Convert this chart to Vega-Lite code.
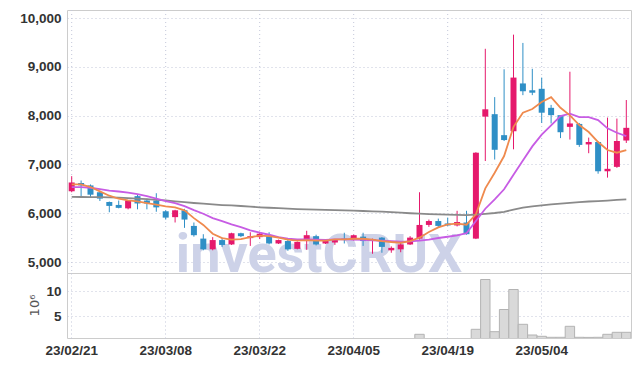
{
"$schema": "https://vega.github.io/schema/vega-lite/v6.json",
"background": "white",
"padding": {"left": 5, "top": 9, "right": 9, "bottom": 5},
"spacing": 0,
"bounds": "flush",
"config": {
  "view": {"stroke": "#cccccc", "strokeWidth": 1},
  "axis": {"labelFont": "Liberation Sans", "labelFontWeight": "bold", "labelFontSize": 13.5, "labelColor": "#333333", "gridColor": "#c3c7d9", "gridDash": [1, 3], "gridWidth": 1, "ticks": false, "domain": false}
},
"datasets": {
  "px": [
    {"d":"23/02/21","o":6450,"h":6760,"l":6430,"c":6630,"ma5":6590,"ma20":6537,"maL":6335,"v":0.45},
    {"d":"23/02/22","o":6620,"h":6670,"l":6350,"c":6570,"ma5":6592,"ma20":6537,"maL":6333,"v":0.3},
    {"d":"23/02/23","o":6570,"h":6590,"l":6320,"c":6380,"ma5":6537,"ma20":6522,"maL":6331,"v":0.25},
    {"d":"23/02/24","o":6430,"h":6440,"l":6250,"c":6300,"ma5":6449,"ma20":6496,"maL":6328,"v":0.2},
    {"d":"23/02/27","o":6230,"h":6240,"l":6020,"c":6150,"ma5":6359,"ma20":6465,"maL":6324,"v":0.3},
    {"d":"23/02/28","o":6170,"h":6260,"l":6100,"c":6110,"ma5":6297,"ma20":6445,"maL":6318,"v":0.2},
    {"d":"23/03/02","o":6100,"h":6270,"l":6080,"c":6260,"ma5":6264,"ma20":6424,"maL":6310,"v":0.25},
    {"d":"23/03/03","o":6350,"h":6380,"l":6080,"c":6200,"ma5":6244,"ma20":6393,"maL":6300,"v":0.2},
    {"d":"23/03/06","o":6260,"h":6300,"l":6080,"c":6200,"ma5":6209,"ma20":6352,"maL":6288,"v":0.15},
    {"d":"23/03/07","o":6260,"h":6410,"l":6030,"c":6120,"ma5":6174,"ma20":6301,"maL":6275,"v":0.3},
    {"d":"23/03/08","o":6040,"h":6060,"l":5870,"c":5910,"ma5":6141,"ma20":6250,"maL":6262,"v":0.3},
    {"d":"23/03/09","o":5920,"h":6070,"l":5810,"c":6060,"ma5":6121,"ma20":6209,"maL":6245,"v":0.25},
    {"d":"23/03/10","o":6060,"h":6090,"l":5700,"c":5870,"ma5":6059,"ma20":6147,"maL":6228,"v":0.35},
    {"d":"23/03/13","o":5740,"h":5810,"l":5520,"c":5550,"ma5":5900,"ma20":6065,"maL":6210,"v":0.4},
    {"d":"23/03/14","o":5480,"h":5570,"l":5240,"c":5260,"ma5":5760,"ma20":5990,"maL":6195,"v":0.5},
    {"d":"23/03/15","o":5260,"h":5510,"l":5240,"c":5450,"ma5":5580,"ma20":5900,"maL":6180,"v":0.3},
    {"d":"23/03/16","o":5450,"h":5500,"l":5310,"c":5350,"ma5":5490,"ma20":5840,"maL":6168,"v":0.2},
    {"d":"23/03/17","o":5360,"h":5600,"l":5350,"c":5590,"ma5":5460,"ma20":5772,"maL":6160,"v":0.3},
    {"d":"23/03/20","o":5590,"h":5600,"l":5510,"c":5530,"ma5":5470,"ma20":5717,"maL":6148,"v":0.15},
    {"d":"23/03/21","o":5490,"h":5610,"l":5330,"c":5530,"ma5":5510,"ma20":5650,"maL":6135,"v":0.2},
    {"d":"23/03/22","o":5510,"h":5620,"l":5470,"c":5580,"ma5":5540,"ma20":5600,"maL":6122,"v":0.2},
    {"d":"23/03/23","o":5530,"h":5610,"l":5360,"c":5380,"ma5":5530,"ma20":5559,"maL":6112,"v":0.2},
    {"d":"23/03/24","o":5380,"h":5460,"l":5370,"c":5450,"ma5":5500,"ma20":5512,"maL":6103,"v":0.15},
    {"d":"23/03/27","o":5430,"h":5470,"l":5230,"c":5260,"ma5":5460,"ma20":5477,"maL":6093,"v":0.2},
    {"d":"23/03/28","o":5270,"h":5420,"l":5260,"c":5410,"ma5":5440,"ma20":5465,"maL":6084,"v":0.15},
    {"d":"23/03/29","o":5430,"h":5640,"l":5250,"c":5550,"ma5":5450,"ma20":5465,"maL":6078,"v":0.25},
    {"d":"23/03/30","o":5530,"h":5560,"l":5340,"c":5360,"ma5":5440,"ma20":5457,"maL":6072,"v":0.15},
    {"d":"23/03/31","o":5380,"h":5440,"l":5370,"c":5430,"ma5":5440,"ma20":5451,"maL":6067,"v":0.1},
    {"d":"23/04/03","o":5400,"h":5470,"l":5350,"c":5450,"ma5":5465,"ma20":5465,"maL":6063,"v":0.1},
    {"d":"23/04/04","o":5480,"h":5600,"l":5380,"c":5450,"ma5":5465,"ma20":5465,"maL":6058,"v":0.15},
    {"d":"23/04/05","o":5450,"h":5560,"l":5440,"c":5550,"ma5":5477,"ma20":5461,"maL":6052,"v":0.1},
    {"d":"23/04/06","o":5520,"h":5600,"l":5330,"c":5430,"ma5":5477,"ma20":5455,"maL":6046,"v":0.15},
    {"d":"23/04/07","o":5450,"h":5480,"l":5170,"c":5470,"ma5":5457,"ma20":5445,"maL":6040,"v":0.1},
    {"d":"23/04/10","o":5500,"h":5510,"l":5190,"c":5310,"ma5":5430,"ma20":5436,"maL":6032,"v":0.15},
    {"d":"23/04/11","o":5240,"h":5320,"l":5190,"c":5290,"ma5":5410,"ma20":5430,"maL":6022,"v":0.1},
    {"d":"23/04/12","o":5260,"h":5390,"l":5200,"c":5360,"ma5":5395,"ma20":5420,"maL":6012,"v":0.1},
    {"d":"23/04/13","o":5360,"h":5530,"l":5350,"c":5500,"ma5":5430,"ma20":5424,"maL":6000,"v":0.2},
    {"d":"23/04/14","o":5480,"h":6430,"l":5460,"c":5760,"ma5":5498,"ma20":5440,"maL":5990,"v":1.34},
    {"d":"23/04/17","o":5760,"h":5870,"l":5720,"c":5840,"ma5":5615,"ma20":5461,"maL":5982,"v":0.4},
    {"d":"23/04/18","o":5840,"h":5890,"l":5720,"c":5740,"ma5":5711,"ma20":5492,"maL":5976,"v":0.3},
    {"d":"23/04/19","o":5790,"h":5910,"l":5740,"c":5750,"ma5":5772,"ma20":5518,"maL":5972,"v":0.25},
    {"d":"23/04/20","o":5750,"h":6050,"l":5730,"c":5820,"ma5":5785,"ma20":5545,"maL":5968,"v":0.4},
    {"d":"23/04/21","o":5810,"h":6050,"l":5560,"c":5570,"ma5":5765,"ma20":5590,"maL":5963,"v":0.3},
    {"d":"23/04/24","o":5480,"h":7250,"l":5470,"c":7240,"ma5":5977,"ma20":5840,"maL":5970,"v":2.34},
    {"d":"23/04/25","o":7980,"h":9370,"l":7070,"c":8130,"ma5":6510,"ma20":6092,"maL":5988,"v":12.3},
    {"d":"23/04/26","o":8030,"h":8380,"l":7100,"c":7300,"ma5":6830,"ma20":6285,"maL":6005,"v":1.86},
    {"d":"23/04/27","o":7600,"h":8950,"l":7480,"c":7500,"ma5":7172,"ma20":6490,"maL":6028,"v":6.3},
    {"d":"23/04/28","o":7680,"h":9660,"l":7310,"c":8780,"ma5":7770,"ma20":6790,"maL":6073,"v":10.3},
    {"d":"23/05/02","o":8660,"h":9490,"l":8420,"c":8500,"ma5":8059,"ma20":7080,"maL":6116,"v":3.34},
    {"d":"23/05/03","o":8520,"h":8960,"l":8420,"c":8470,"ma5":8135,"ma20":7370,"maL":6141,"v":1.2},
    {"d":"23/05/04","o":8550,"h":8780,"l":7850,"c":8060,"ma5":8280,"ma20":7610,"maL":6162,"v":0.94},
    {"d":"23/05/08","o":8160,"h":8220,"l":7840,"c":8010,"ma5":8380,"ma20":7800,"maL":6181,"v":0.74},
    {"d":"23/05/09","o":8010,"h":8010,"l":7540,"c":7660,"ma5":8162,"ma20":7992,"maL":6197,"v":0.74},
    {"d":"23/05/10","o":7770,"h":8900,"l":7510,"c":7840,"ma5":8006,"ma20":8039,"maL":6213,"v":2.94},
    {"d":"23/05/11","o":7830,"h":7850,"l":7360,"c":7400,"ma5":7807,"ma20":7971,"maL":6228,"v":0.74},
    {"d":"23/05/12","o":7410,"h":7550,"l":7230,"c":7460,"ma5":7664,"ma20":7971,"maL":6240,"v":0.72},
    {"d":"23/05/15","o":7460,"h":7470,"l":6810,"c":6860,"ma5":7459,"ma20":7910,"maL":6250,"v":0.74},
    {"d":"23/05/16","o":6860,"h":7960,"l":6730,"c":6910,"ma5":7295,"ma20":7740,"maL":6260,"v":1.34},
    {"d":"23/05/17","o":6950,"h":7940,"l":6930,"c":7480,"ma5":7240,"ma20":7649,"maL":6272,"v":1.74},
    {"d":"23/05/18","o":7490,"h":8320,"l":7440,"c":7750,"ma5":7295,"ma20":7582,"maL":6285,"v":1.74}
  ]
},
"vconcat": [
  {
    "width": 564,
    "height": 263,
    "data": {"name": "px"},
    "encoding": {
      "x": {"field": "d", "type": "ordinal", "sort": null, "title": null,
        "scale": {"paddingInner": 0, "paddingOuter": 0, "domain": ["23/02/21","23/02/22","23/02/23","23/02/24","23/02/27","23/02/28","23/03/02","23/03/03","23/03/06","23/03/07","23/03/08","23/03/09","23/03/10","23/03/13","23/03/14","23/03/15","23/03/16","23/03/17","23/03/20","23/03/21","23/03/22","23/03/23","23/03/24","23/03/27","23/03/28","23/03/29","23/03/30","23/03/31","23/04/03","23/04/04","23/04/05","23/04/06","23/04/07","23/04/10","23/04/11","23/04/12","23/04/13","23/04/14","23/04/17","23/04/18","23/04/19","23/04/20","23/04/21","23/04/24","23/04/25","23/04/26","23/04/27","23/04/28","23/05/02","23/05/03","23/05/04","23/05/08","23/05/09","23/05/10","23/05/11","23/05/12","23/05/15","23/05/16","23/05/17","23/05/18"]},
        "axis": null}
    },
    "layer": [
      {
        "transform": [{"filter": "indexof(['23/02/21','23/03/08','23/03/22','23/04/05','23/04/19','23/05/04'], datum.d) >= 0"}],
        "mark": {"type": "rule", "color": "#c3c7d9", "strokeDash": [1, 3], "strokeWidth": 1},
        "encoding": {}
      },
      {
        "mark": {"type": "rule", "strokeWidth": 1},
        "encoding": {
          "y": {"field": "l", "type": "quantitative", "title": null,
            "scale": {"domain": [4775, 10165], "nice": false, "zero": false},
            "axis": {"values": [5000,6000,7000,8000,9000,10000], "labelExpr": "format(datum.value, ',')", "grid": true, "labelPadding": 6, "minExtent": 61, "maxExtent": 61}},
          "y2": {"field": "h"},
          "color": {"value": "transparent"}
        }
      },
      {
        "transform": [{"filter": "datum.d == '23/03/30'"}],
        "mark": {"type": "text", "font": "Roboto", "fontWeight": "bold", "fontSize": 54, "color": "#cdd2e8", "align": "center", "baseline": "alphabetic", "dx": 3},
        "encoding": {
          "y": {"datum": 4790, "type": "quantitative"},
          "text": {"value": "investCRUX"}
        }
      },
      {
        "mark": {"type": "rule", "strokeWidth": 1},
        "encoding": {
          "y": {"field": "l", "type": "quantitative"},
          "y2": {"field": "h"},
          "color": {"condition": {"test": "datum.c >= datum.o", "value": "#e5196c"}, "value": "#2f8fc6"}
        }
      },
      {
        "mark": {"type": "bar", "size": 6},
        "encoding": {
          "y": {"field": "o", "type": "quantitative"},
          "y2": {"field": "c"},
          "color": {"condition": {"test": "datum.c >= datum.o", "value": "#e5196c"}, "value": "#2f8fc6"}
        }
      },
      {
        "mark": {"type": "line", "color": "#8a8a8a", "strokeWidth": 1.8},
        "encoding": {"y": {"field": "maL", "type": "quantitative"}}
      },
      {
        "mark": {"type": "line", "color": "#c75ce4", "strokeWidth": 1.8},
        "encoding": {"y": {"field": "ma20", "type": "quantitative"}}
      },
      {
        "mark": {"type": "line", "color": "#ef8a4e", "strokeWidth": 1.8},
        "encoding": {"y": {"field": "ma5", "type": "quantitative"}}
      }
    ]
  },
  {
    "width": 564,
    "height": 65,
    "data": {"name": "px"},
    "mark": {"type": "bar", "clip": true, "fill": "#d9d9d9", "stroke": "#b3b3b3", "strokeWidth": 1},
    "encoding": {
      "x": {"field": "d", "type": "ordinal", "sort": null, "title": null,
        "scale": {"paddingInner": 0, "paddingOuter": 0},
        "axis": {"values": ["23/02/21","23/03/08","23/03/22","23/04/05","23/04/19","23/05/04"], "labelAngle": 0, "labelPadding": 5, "grid": true, "bandPosition": 0.5}},
      "y": {"field": "v", "type": "quantitative", "title": "10⁶",
        "scale": {"domain": [0.6, 13.6], "nice": false, "zero": false},
        "axis": {"values": [5, 10], "grid": true, "labelPadding": 6, "minExtent": 61, "maxExtent": 61,
          "titleX": -33, "titleY": 32, "titleAngle": -90, "titleAlign": "center", "titleBaseline": "middle",
          "titleFont": "DejaVu Sans", "titleFontWeight": "normal", "titleFontSize": 13, "titleColor": "#555555"}}
    }
  }
]
}
